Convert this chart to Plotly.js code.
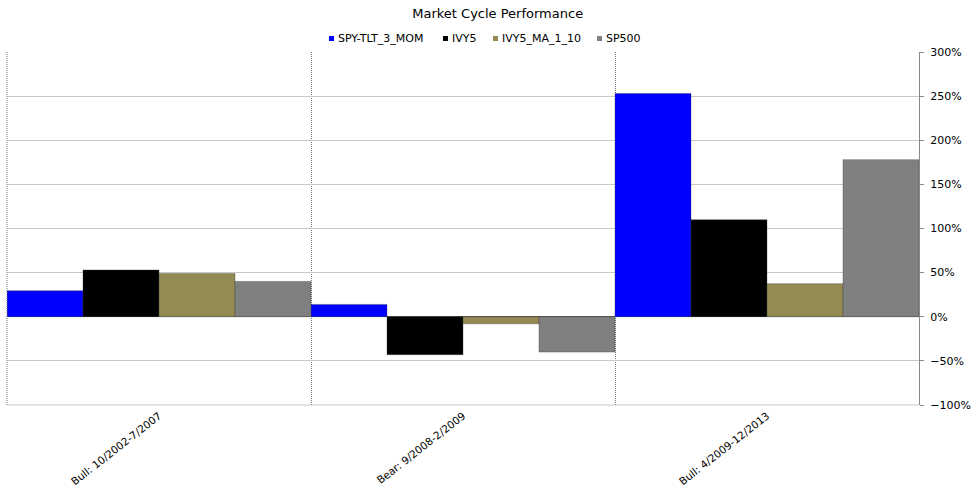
<!DOCTYPE html>
<html>
<head>
<meta charset="utf-8">
<script src="https://cdn.plot.ly/plotly-3.0.1.min.js"></script>
<style>html,body{margin:0;padding:0;background:#fff;}#chart{width:974px;height:491px;}</style>
</head>
<body>
<div id="chart"></div>
<script>
var categories = ["Bull: 10/2002-7/2007", "Bear: 9/2008-2/2009", "Bull: 4/2009-12/2013"];
var seriesNames = ["SPY-TLT_3_MOM", "IVY5", "IVY5_MA_1_10", "SP500"];
var spyTlt3Mom = [29.5, 14, 253];
var ivy5 = [53, -43, 110];
var ivy5Ma110 = [49, -8, 37.5];
var sp500 = [40, -40, 178];
var colors = ["#0000FF", "#000000", "#948A54", "#808080"];

var FONT = "DejaVu Sans, Verdana, sans-serif";
var seriesValues = [spyTlt3Mom, ivy5, ivy5Ma110, sp500];
var traces = seriesValues.map(function (vals, i) {
  return {
    type: "bar",
    name: seriesNames[i],
    x: categories,
    y: vals,
    marker: { color: colors[i], line: { color: "rgba(60,60,60,0.6)", width: 0.6 } },
    hoverinfo: "y+name"
  };
});

var ml = 7, mr = 55, mt = 52, mb = 86, W = 974, H = 491;
var pw = W - ml - mr, ph = H - mt - mb;
function px2x(p) { return (p - ml) / pw; }
function py2y(p) { return (H - mb - p) / ph; }

// hand-made legend (small square swatches), left pixel of each entry
var legendLeft = [329, 443, 493, 597];
var annotations = [], shapes = [];
seriesNames.forEach(function (n, i) {
  shapes.push({ type: "rect", xref: "paper", yref: "paper",
    x0: px2x(legendLeft[i]), x1: px2x(legendLeft[i] + 5),
    y0: py2y(41), y1: py2y(36),
    fillcolor: colors[i], line: { width: 0 } });
  annotations.push({ text: n, xref: "paper", yref: "paper",
    x: px2x(legendLeft[i] + 7), y: py2y(38.5), xanchor: "left", yanchor: "middle",
    showarrow: false, font: { family: FONT, size: 11, color: "#000" } });
});

shapes.push({ type: "line", xref: "paper", yref: "paper", x0: 0, x1: 0, y0: 0, y1: 1, line: { color: "#777", width: 1, dash: "1px,1px" } });
shapes.push({ type: "line", xref: "paper", yref: "paper", x0: 0, x1: 1, y0: 0, y1: 0, line: { color: "#c8c8c8", width: 1 } });

var layout = {
  width: W, height: H,
  margin: { l: ml, r: mr, t: mt, b: mb },
  paper_bgcolor: "#fff", plot_bgcolor: "#fff",
  title: { text: "Market Cycle Performance", x: 0.511, xref: "container", xanchor: "center",
           y: 1 - 13 / H, yref: "container", yanchor: "middle",
           font: { family: FONT, size: 13, color: "#000" } },
  barmode: "group", bargap: 0, bargroupgap: 0,
  showlegend: false,
  xaxis: {
    type: "category", range: [-0.5, 2.5], tickangle: -38,
    tickfont: { family: FONT, size: 10.5, color: "#000" }, ticklabelstandoff: 2,
    tickson: "boundaries", ticks: "", showgrid: true, griddash: "1px,1px", gridcolor: "#777", gridwidth: 1,
    showline: false, zeroline: false, fixedrange: true
  },
  yaxis: {
    side: "right", range: [-100, 300], dtick: 50, ticksuffix: "%",
    showgrid: true, gridcolor: "#c8c8c8", gridwidth: 1,
    zeroline: true, zerolinecolor: "#555", zerolinewidth: 1,
    showline: true, linecolor: "#888", linewidth: 1,
    ticks: "outside", ticklen: 4, tickcolor: "#888", ticklabelstandoff: 4,
    tickfont: { family: FONT, size: 11, color: "#000" },
    fixedrange: true
  },
  annotations: annotations,
  shapes: shapes
};

Plotly.newPlot("chart", traces, layout, { displayModeBar: false, staticPlot: true });
</script>
</body>
</html>
